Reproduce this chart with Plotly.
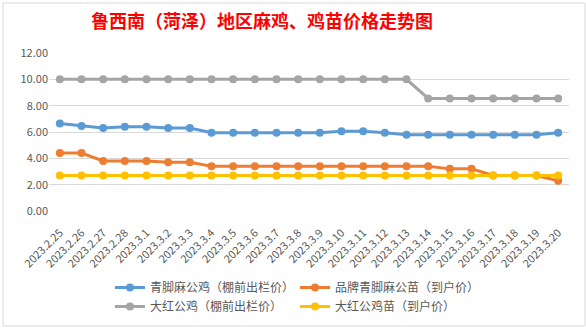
import plotly.graph_objects as go

dates = ["2023.2.25", "2023.2.26", "2023.2.27", "2023.2.28", "2023.3.1", "2023.3.2",
         "2023.3.3", "2023.3.4", "2023.3.5", "2023.3.6", "2023.3.7", "2023.3.8",
         "2023.3.9", "2023.3.10", "2023.3.11", "2023.3.12", "2023.3.13", "2023.3.14",
         "2023.3.15", "2023.3.16", "2023.3.17", "2023.3.18", "2023.3.19", "2023.3.20"]

qingjiao_gongji = [6.65, 6.45, 6.3, 6.4, 6.4, 6.3, 6.3, 5.95, 5.95, 5.95, 5.95, 5.95,
                   5.95, 6.05, 6.05, 5.95, 5.8, 5.8, 5.8, 5.8, 5.8, 5.8, 5.8, 5.95]
pinpai_gongmiao = [4.4, 4.4, 3.8, 3.8, 3.8, 3.7, 3.7, 3.4, 3.4, 3.4, 3.4, 3.4,
                   3.4, 3.4, 3.4, 3.4, 3.4, 3.4, 3.2, 3.2, 2.7, 2.7, 2.7, 2.3]
dahong_gongji = [10, 10, 10, 10, 10, 10, 10, 10, 10, 10, 10, 10,
                 10, 10, 10, 10, 10, 8.55, 8.55, 8.55, 8.55, 8.55, 8.55, 8.55]
dahong_miao = [2.7] * 24

series = [
    ("青脚麻公鸡（棚前出栏价）", qingjiao_gongji, "#5B9BD5"),
    ("品牌青脚麻公苗（到户价）", pinpai_gongmiao, "#ED7D31"),
    ("大红公鸡（棚前出栏价）", dahong_gongji, "#A5A5A5"),
    ("大红公鸡苗（到户价）", dahong_miao, "#FFC000"),
]

FONT = "Noto Sans CJK SC"
W, H = 586, 328
L, R, T, B = 49, 17, 53, 117
pw, ph = W - L - R, H - T - B

fig = go.Figure()
for name, vals, color in series:
    fig.add_trace(go.Scatter(
        x=dates, y=vals, name=name, mode="lines+markers",
        line=dict(color=color, width=3),
        marker=dict(color=color, size=8),
    ))

def px2x(px):
    return (px - L) / pw

def px2y(py):
    return (H - B - py) / ph

fig.update_layout(
    width=W, height=H,
    margin=dict(l=L, r=R, t=T, b=B, autoexpand=False),
    paper_bgcolor="white", plot_bgcolor="white",
    font=dict(family=FONT, color="#595959", size=11),
    title=dict(text="鲁西南（菏泽）地区麻鸡、鸡苗价格走势图",
               font=dict(family=FONT, size=18, color="#FF0000", weight="bold"),
               x=262 / W, xanchor="center", xref="container",
               y=1 - 22 / H, yanchor="middle", yref="container"),
    showlegend=True,
    legend=dict(orientation="h", x=px2x(110), xanchor="left",
                y=px2y(273), yanchor="top",
                entrywidth=140, entrywidthmode="pixels",
                font=dict(family=FONT, size=12, color="#595959"),
                tracegroupgap=0, itemwidth=30),
    shapes=[dict(type="rect", xref="paper", yref="paper",
                 x0=px2x(3), x1=px2x(585), y0=px2y(326), y1=px2y(3),
                 line=dict(color="#D9D9D9", width=1), layer="below")],
)

fig.update_xaxes(type="category", range=[-0.5, 23.5], tickangle=-45,
                 showgrid=False, showline=False, automargin=False,
                 ticks="outside", ticklen=10, tickcolor="rgba(0,0,0,0)",
                 tickfont=dict(family=FONT, size=11, color="#595959"))
fig.update_yaxes(range=[0, 12], dtick=2, tickformat=".2f", automargin=False,
                 showgrid=True, gridcolor="#D9D9D9", gridwidth=1,
                 zeroline=False, showline=False, ticks="",
                 tickfont=dict(family=FONT, size=11, color="#595959"))

fig.write_html("out.html")
